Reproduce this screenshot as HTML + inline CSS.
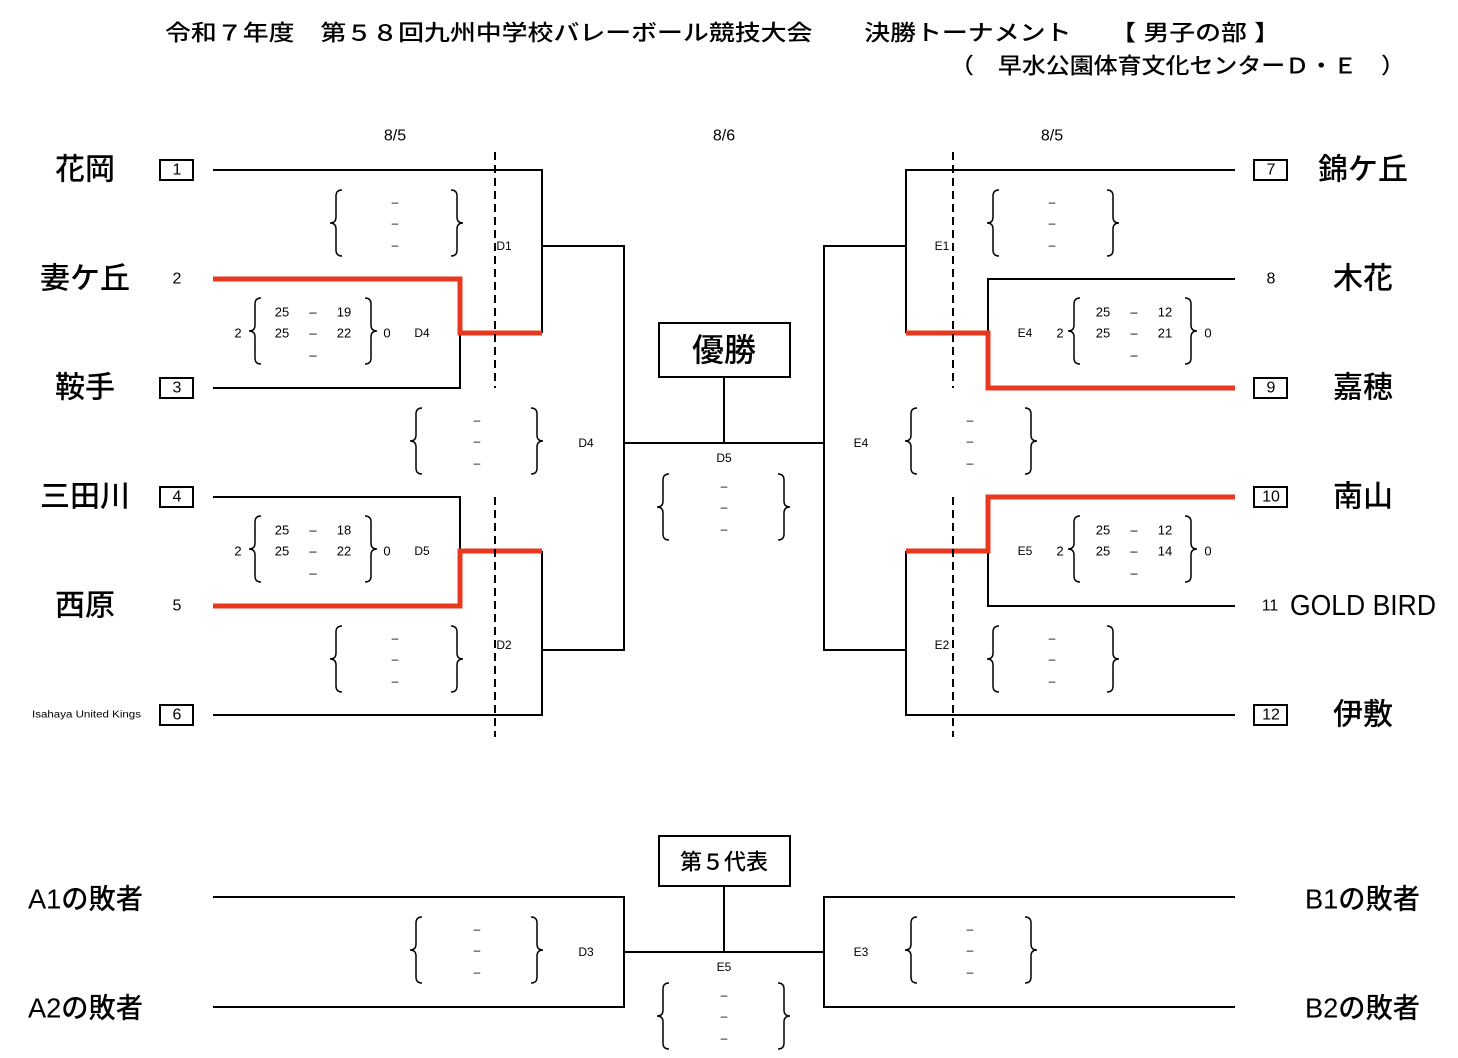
<!DOCTYPE html>
<html><head><meta charset="utf-8"><style>
html,body{margin:0;padding:0;background:#fff;}
svg{display:block;font-family:"Liberation Sans","Noto Sans CJK JP",sans-serif;}
.n{font-size:30px;font-weight:500;text-anchor:middle;dominant-baseline:central;}
.s{font-size:16px;text-anchor:middle;dominant-baseline:central;}
.t{font-size:12px;text-anchor:middle;dominant-baseline:central;}
.d{font-size:13px;text-anchor:middle;dominant-baseline:central;}
.k{fill:none;stroke:#000;stroke-width:2;}
.r{fill:none;stroke:#e8391f;stroke-width:5;}
.b{fill:none;stroke:#000;stroke-width:1.5;}
.ds{stroke:#000;stroke-width:2;stroke-dasharray:8,5;}
</style></head><body>
<svg width="1458" height="1058" viewBox="0 0 1458 1058" xmlns="http://www.w3.org/2000/svg">
<defs>
<path id="lb" d="M9,0 Q3,0 3,6 V27 Q3,33 -3,33 Q3,33 3,39 V60 Q3,66 9,66" class="b"/>
<path id="rb" d="M-9,0 Q-3,0 -3,6 V27 Q-3,33 3,33 Q-3,33 -3,39 V60 Q-3,66 -9,66" class="b"/>
</defs>
<text x="165" y="33" font-size="22" font-weight="500" dominant-baseline="central" textLength="1115" lengthAdjust="spacingAndGlyphs">令和７年度　第５８回九州中学校バレーボール競技大会　　決勝トーナメント　　【 男子の部 】</text>
<text x="950" y="66" font-size="22" font-weight="500" dominant-baseline="central" textLength="455" lengthAdjust="spacingAndGlyphs">（　早水公園体育文化センターＤ・Ｅ　）</text>
<text x="395" y="136" class="s" font-size="19">8/5</text>
<text x="724" y="136" class="s" font-size="19">8/6</text>
<text x="1052" y="136" class="s" font-size="19">8/5</text>

<text x="85" y="170" class="n">花岡</text>
<text x="85" y="279" class="n">妻ケ丘</text>
<text x="85" y="388" class="n">鞍手</text>
<text x="85" y="497" class="n">三田川</text>
<text x="85" y="606" class="n">西原</text>
<text x="32" y="715" font-size="10" dominant-baseline="central" textLength="109" lengthAdjust="spacingAndGlyphs">Isahaya United Kings</text>
<g class="k"><rect x="160" y="160" width="33" height="20"/><rect x="160" y="378" width="33" height="20"/><rect x="160" y="487" width="33" height="20"/><rect x="160" y="705" width="33" height="20"/></g>
<text x="177" y="170" class="s">1</text><text x="177" y="279" class="s">2</text><text x="177" y="388" class="s">3</text><text x="177" y="497" class="s">4</text><text x="177" y="606" class="s">5</text><text x="177" y="715" class="s">6</text>

<g class="k"><rect x="1254" y="160" width="33" height="20"/><rect x="1254" y="378" width="33" height="20"/><rect x="1254" y="487" width="33" height="20"/><rect x="1254" y="705" width="33" height="20"/></g>
<text x="1271" y="170" class="s">7</text><text x="1271" y="279" class="s">8</text><text x="1271" y="388" class="s">9</text><text x="1271" y="497" class="s">10</text><text x="1270" y="606" class="s">11</text><text x="1271" y="715" class="s">12</text>
<text x="1363" y="170" class="n">錦ケ丘</text>
<text x="1363" y="279" class="n">木花</text>
<text x="1363" y="388" class="n">嘉穂</text>
<text x="1363" y="497" class="n">南山</text>
<text x="1290" y="606" font-size="29" dominant-baseline="central" textLength="146" lengthAdjust="spacingAndGlyphs">GOLD BIRD</text>
<text x="1363" y="715" class="n">伊敷</text>

<path class="k" d="M213,170 H542 V333 M213,388 H460 V333 M542,246 H624 V650 H542 M624,443 H824 M213,497 H460 V551 M542,551 V715 H213"/>
<path class="r" d="M213,279 H460 V333 H542"/>
<path class="r" d="M213,606 H460 V551 H542"/>
<line class="ds" x1="495" y1="152" x2="495" y2="388"/>
<line class="ds" x1="495" y1="497" x2="495" y2="737"/>

<path class="k" d="M1235,170 H906 V333 M1235,279 H988 V333 M906,246 H824 V650 H906 M906,551 V715 H1235 M1235,606 H988 V551"/>
<path class="r" d="M906,333 H988 V388 H1235"/>
<path class="r" d="M1235,497 H988 V551 H906"/>
<line class="ds" x1="953" y1="152" x2="953" y2="388"/>
<line class="ds" x1="953" y1="497" x2="953" y2="737"/>

<rect class="k" x="659" y="323" width="131" height="54"/>
<text x="724" y="350" font-size="32" font-weight="500" text-anchor="middle" dominant-baseline="central">優勝</text>
<line class="k" x1="724" y1="377" x2="724" y2="443"/>

<rect class="k" x="659" y="836" width="131" height="50"/>
<text x="724" y="862" font-size="22" font-weight="500" text-anchor="middle" dominant-baseline="central">第５代表</text>
<path class="k" d="M724,886 V952 M213,897 H624 V1007 H213 M624,952 H824 M1235,897 H824 V1007 H1235"/>
<text x="28" y="899" font-size="28" font-weight="500" dominant-baseline="central" textLength="115" lengthAdjust="spacingAndGlyphs">A1の敗者</text>
<text x="28" y="1008" font-size="28" font-weight="500" dominant-baseline="central" textLength="115" lengthAdjust="spacingAndGlyphs">A2の敗者</text>
<text x="1305" y="899" font-size="28" font-weight="500" dominant-baseline="central" textLength="115" lengthAdjust="spacingAndGlyphs">B1の敗者</text>
<text x="1305" y="1008" font-size="28" font-weight="500" dominant-baseline="central" textLength="115" lengthAdjust="spacingAndGlyphs">B2の敗者</text>

<g>
<use href="#lb" x="333" y="190"/><use href="#rb" x="460" y="190"/>
<use href="#lb" x="413" y="408"/><use href="#rb" x="540" y="408"/>
<use href="#lb" x="333" y="626"/><use href="#rb" x="460" y="626"/>
<use href="#lb" x="660" y="474"/><use href="#rb" x="787" y="474"/>
<use href="#lb" x="990" y="190"/><use href="#rb" x="1116" y="190"/>
<use href="#lb" x="908" y="408"/><use href="#rb" x="1034" y="408"/>
<use href="#lb" x="990" y="626"/><use href="#rb" x="1116" y="626"/>
<use href="#lb" x="413" y="917"/><use href="#rb" x="540" y="917"/>
<use href="#lb" x="660" y="983"/><use href="#rb" x="787" y="983"/>
<use href="#lb" x="908" y="917"/><use href="#rb" x="1034" y="917"/>
<use href="#lb" x="252" y="298"/><use href="#rb" x="374" y="298"/>
<use href="#lb" x="252" y="516"/><use href="#rb" x="374" y="516"/>
<use href="#lb" x="1071" y="298"/><use href="#rb" x="1194" y="298"/>
<use href="#lb" x="1071" y="516"/><use href="#rb" x="1194" y="516"/>
</g>
<g class="t">
<text x="395" y="202">–</text><text x="395" y="223">–</text><text x="395" y="245">–</text>
<text x="477" y="420">–</text><text x="477" y="441">–</text><text x="477" y="463">–</text>
<text x="395" y="638">–</text><text x="395" y="659">–</text><text x="395" y="681">–</text>
<text x="724" y="486">–</text><text x="724" y="507">–</text><text x="724" y="529">–</text>
<text x="1052" y="202">–</text><text x="1052" y="223">–</text><text x="1052" y="245">–</text>
<text x="970" y="420">–</text><text x="970" y="441">–</text><text x="970" y="463">–</text>
<text x="1052" y="638">–</text><text x="1052" y="659">–</text><text x="1052" y="681">–</text>
<text x="477" y="929">–</text><text x="477" y="950">–</text><text x="477" y="972">–</text>
<text x="724" y="995">–</text><text x="724" y="1016">–</text><text x="724" y="1038">–</text>
<text x="970" y="929">–</text><text x="970" y="950">–</text><text x="970" y="972">–</text>
</g>
<g class="d" font-size="15">
<text x="238" y="333">2</text><text x="387" y="333">0</text>
<text x="282" y="312">25</text><text x="313" y="312">–</text><text x="344" y="312">19</text>
<text x="282" y="333">25</text><text x="313" y="333">–</text><text x="344" y="333">22</text><text x="313" y="355">–</text>
<text x="238" y="551">2</text><text x="387" y="551">0</text>
<text x="282" y="530">25</text><text x="313" y="530">–</text><text x="344" y="530">18</text>
<text x="282" y="551">25</text><text x="313" y="551">–</text><text x="344" y="551">22</text><text x="313" y="573">–</text>
<text x="1060" y="333">2</text><text x="1208" y="333">0</text>
<text x="1103" y="312">25</text><text x="1134" y="312">–</text><text x="1165" y="312">12</text>
<text x="1103" y="333">25</text><text x="1134" y="333">–</text><text x="1165" y="333">21</text><text x="1134" y="355">–</text>
<text x="1060" y="551">2</text><text x="1208" y="551">0</text>
<text x="1103" y="530">25</text><text x="1134" y="530">–</text><text x="1165" y="530">12</text>
<text x="1103" y="551">25</text><text x="1134" y="551">–</text><text x="1165" y="551">14</text><text x="1134" y="573">–</text>
</g>
<g class="t">
<text x="504" y="246">D1</text><text x="422" y="333">D4</text><text x="586" y="443">D4</text>
<text x="422" y="551">D5</text><text x="504" y="645">D2</text><text x="724" y="458">D5</text>
<text x="942" y="246">E1</text><text x="1025" y="333">E4</text><text x="861" y="443">E4</text>
<text x="1025" y="551">E5</text><text x="942" y="645">E2</text>
<text x="586" y="952">D3</text><text x="724" y="967">E5</text><text x="861" y="952">E3</text>
</g>
</svg>
</body></html>
